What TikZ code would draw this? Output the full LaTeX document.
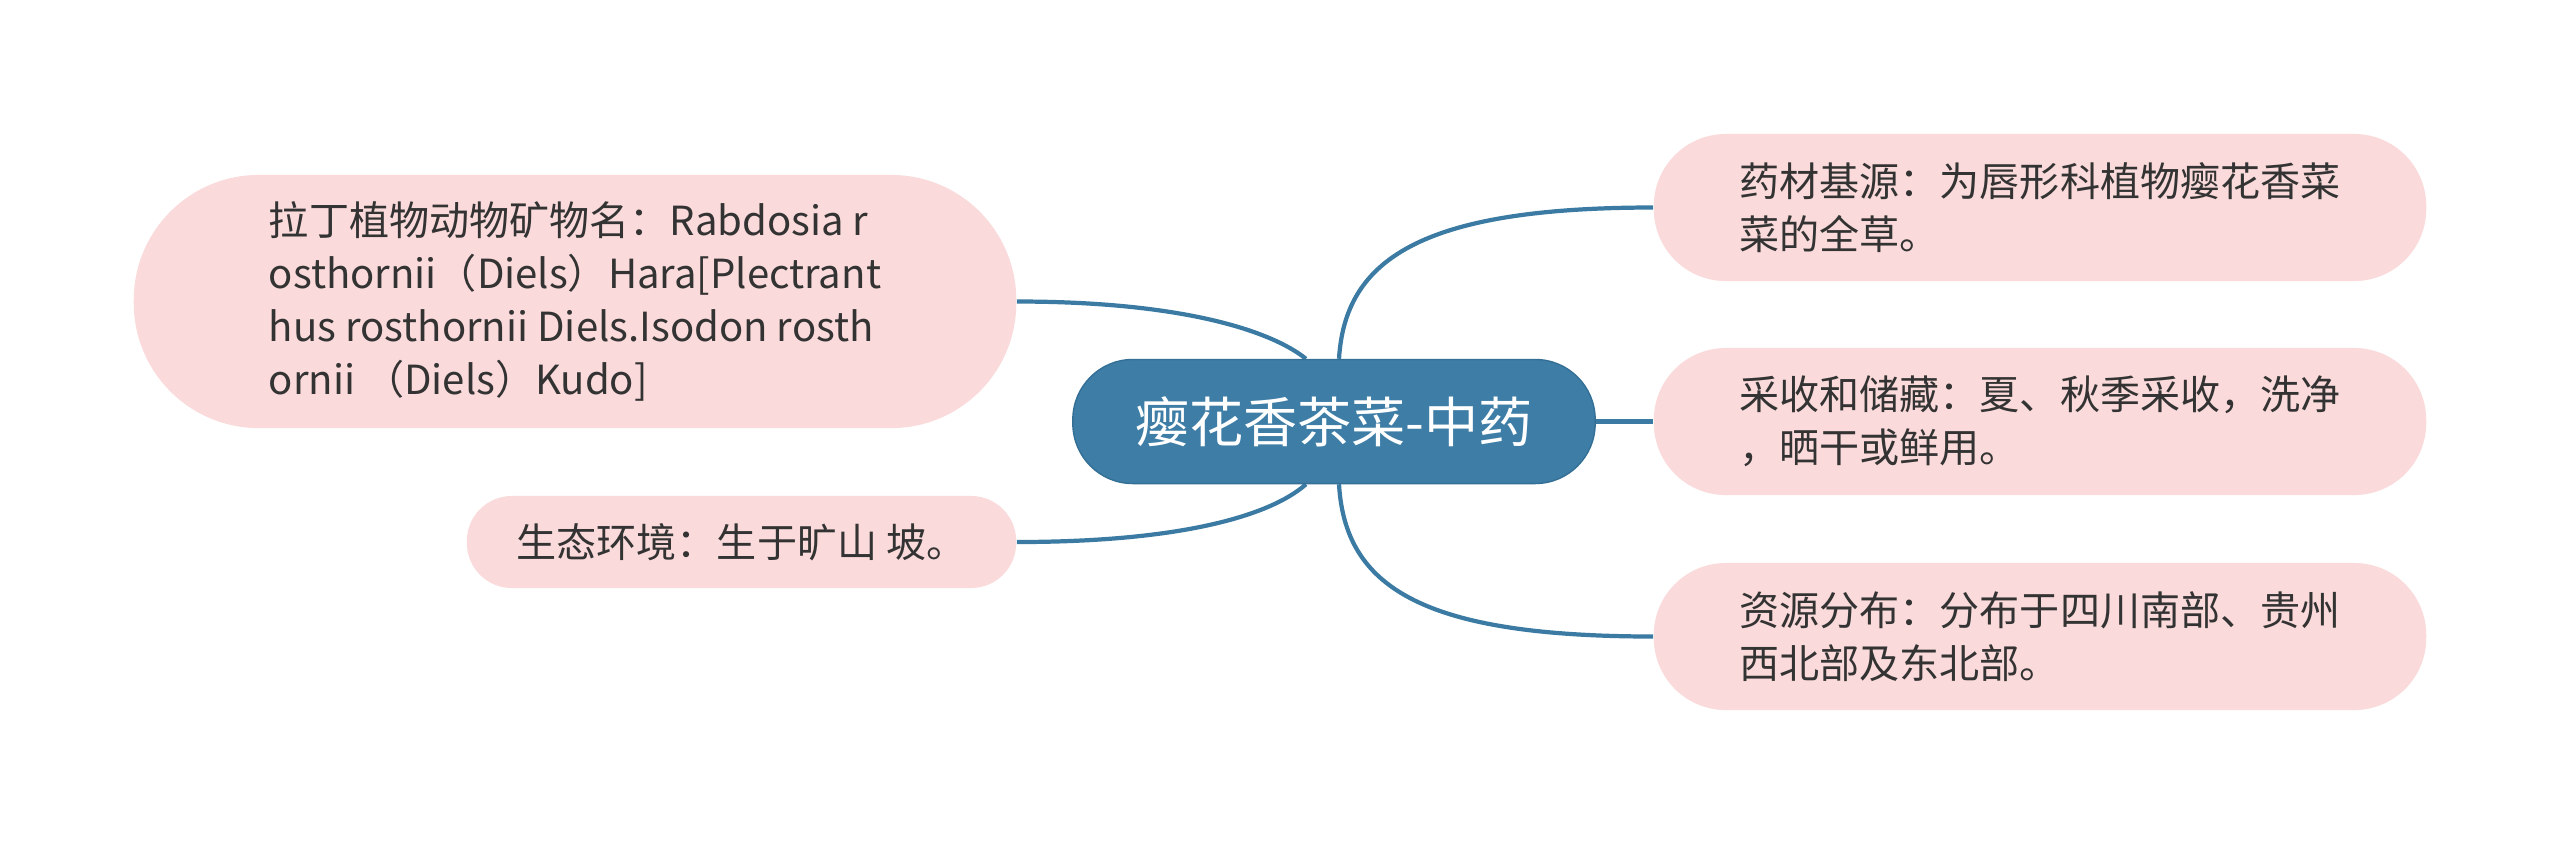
\documentclass[tikz,border=0pt]{standalone}
\usepackage{fontspec}
\setmainfont{Noto Sans CJK SC}
\usetikzlibrary{backgrounds}
\definecolor{pinkfill}{HTML}{FADADA}
\definecolor{bluefill}{HTML}{3D7DA6}
\definecolor{blueedge}{HTML}{346F95}
\definecolor{blueline}{HTML}{3B7BA3}
\definecolor{txt}{HTML}{333333}
\begin{document}
\begin{tikzpicture}[x=0.01cm,y=-0.01cm,
  leaf/.style={fill=pinkfill, text=txt, align=left, inner sep=0pt,
    font=\fontsize{11.4pt}{15pt}\selectfont},
  root/.style={fill=bluefill, draw=blueedge, line width=0.4pt, text=white, inner sep=0pt,
    font=\fontsize{15.4pt}{18pt}\selectfont},
  link/.style={draw=blueline, line width=1.2pt}]
\useasboundingbox (0,0) rectangle (2560,844);

\node[root, minimum width=5.22cm, minimum height=1.24cm, rounded corners=0.6cm] (c) at (1334,421.5) {瘿花香茶菜-中药};

\node[leaf, minimum width=8.82cm, minimum height=2.53cm, rounded corners=1.25cm] (l1) at (575,301.5)
  {拉丁植物动物矿物名：Rabdosia r\\osthornii（Diels）Hara[Plectrant\\hus rosthornii Diels.Isodon rosth\\ornii （Diels）Kudo]};
\node[leaf, minimum width=5.49cm, minimum height=0.92cm, rounded corners=0.45cm] (l2) at (741.5,542)
  {生态环境：生于旷山 坡。};

\node[leaf, minimum width=7.72cm, minimum height=1.47cm, rounded corners=0.72cm] (r1) at (2040,207.5)
  {药材基源：为唇形科植物瘿花香菜\\菜的全草。};
\node[leaf, minimum width=7.72cm, minimum height=1.47cm, rounded corners=0.72cm] (r2) at (2040,421.5)
  {采收和储藏：夏、秋季采收，洗净\\，晒干或鲜用。};
\node[leaf, minimum width=7.72cm, minimum height=1.47cm, rounded corners=0.72cm] (r3) at (2040,636.5)
  {资源分布：分布于四川南部、贵州\\西北部及东北部。};

\begin{pgfonlayer}{background}
  \fill[white] (0,0) rectangle (2560,844);
  \draw[link] ([xshift=0.05cm]c.north) .. controls (1345,260) and (1420,207.5) .. (r1.west);
  \draw[link] (c.east) -- (r2.west);
  \draw[link] ([xshift=0.05cm]c.south) .. controls (1345,586) and (1420,636.5) .. (r3.west);
  \draw[link] ([xshift=-0.28cm]c.north) .. controls (1270,330) and (1180,301.5) .. (l1.east);
  \draw[link] ([xshift=-0.28cm]c.south) .. controls (1270,516) and (1180,542) .. (l2.east);
\end{pgfonlayer}
\end{tikzpicture}
\end{document}
